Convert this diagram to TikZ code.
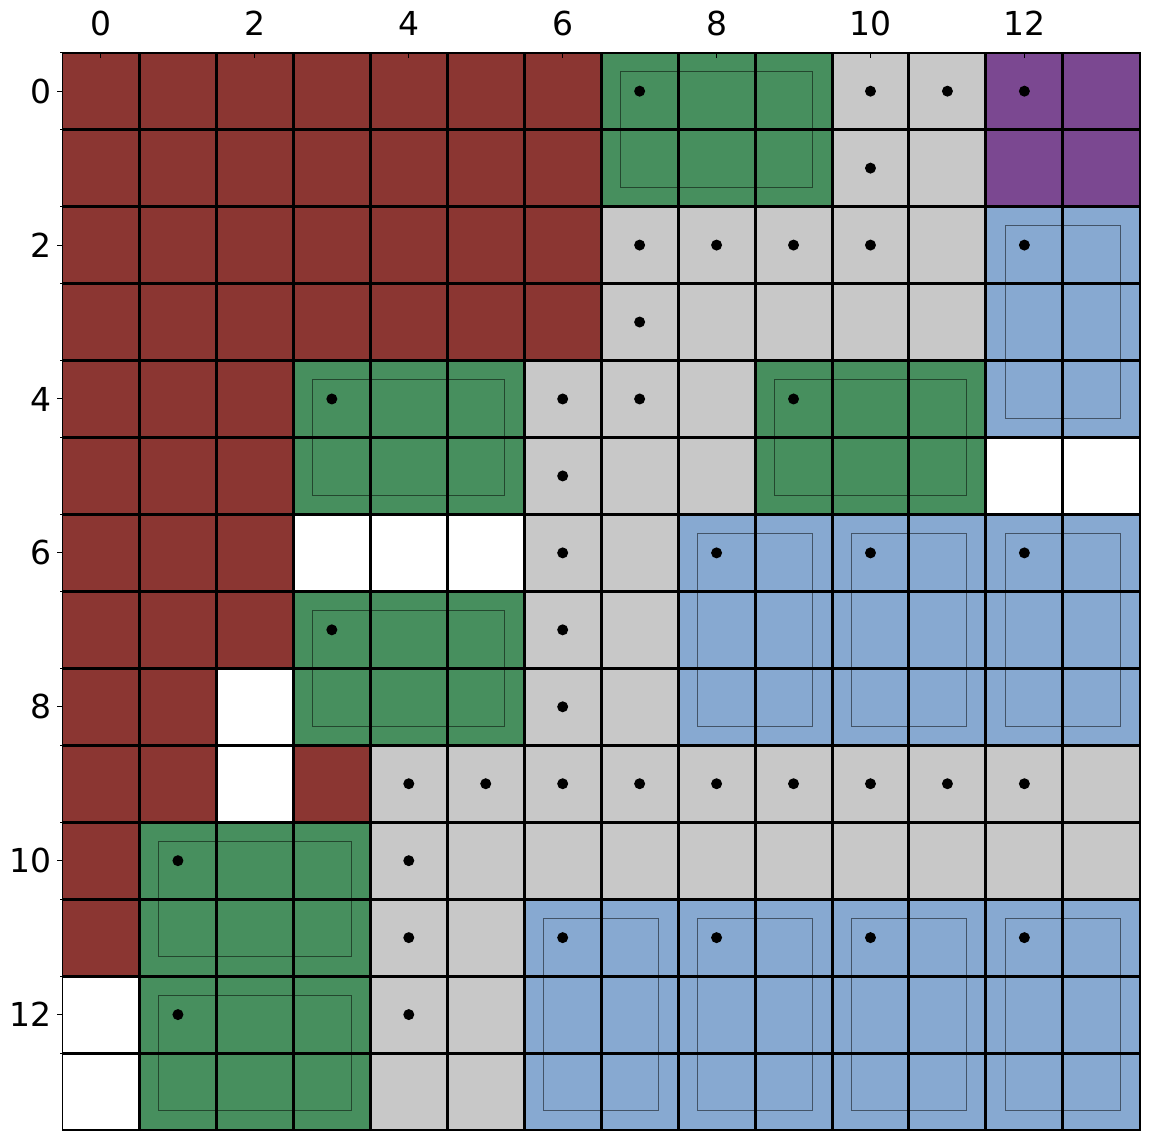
\documentclass[tikz,border=0pt]{standalone}
\usepackage{fontspec}
\setmainfont{DejaVu Sans}
\definecolor{cred}{RGB}{139,54,50}
\definecolor{cgreen}{RGB}{71,143,94}
\definecolor{cgray}{RGB}{200,200,200}
\definecolor{cpurple}{RGB}{123,72,145}
\definecolor{cblue}{RGB}{135,169,209}
\tikzset{
  cellfill/.style={draw=none},
  whitecell/.style={fill=white,draw=cgray,line width=0.5pt},
  gridline/.style={black,line width=1.5pt},
  framebox/.style={black,line width=0.9pt},
  innerbox/.style={draw=black,draw opacity=0.5,line width=0.5pt},
  dotmark/.style={circle,fill=black,inner sep=0pt,minimum size=5.5pt},
  ticklabel/.style={inner sep=0pt,font=\fontsize{16.5}{20}\selectfont},
  tickline/.style={black,line width=0.5pt}
}
\begin{document}
\begin{tikzpicture}[x=0.5pt,y=-0.5pt]
\useasboundingbox (0,0) rectangle (1150,1140);
\begin{scope}[shift={(62.5,52.7)},x=38.475pt,y=-38.475pt]
  % background gray
  \fill[cgray] (0,0) rectangle (14,14);
  % red regions
  \foreach \a/\b/\p/\q in {0/6/0/3, 0/2/4/7, 0/1/8/9, 3/3/9/9, 0/0/10/11}
    \fill[cred] (\a,\p) rectangle (\b+1,\q+1);
  % green regions
  \foreach \a/\b/\p/\q in {7/9/0/1, 3/5/4/5, 9/11/4/5, 3/5/7/8, 1/3/10/13}
    \fill[cgreen] (\a,\p) rectangle (\b+1,\q+1);
  % purple
  \fill[cpurple] (12,0) rectangle (14,2);
  % blue regions
  \foreach \a/\b/\p/\q in {12/13/2/4, 8/13/6/8, 6/13/11/13}
    \fill[cblue] (\a,\p) rectangle (\b+1,\q+1);
  % white cells
  \foreach \c/\r in {12/5, 13/5, 3/6, 4/6, 5/6, 2/8, 2/9, 0/12, 0/13}
    \draw[whitecell] (\c,\r) rectangle (\c+1,\r+1);
  % inner boxes: green 3x2 blocks
  \foreach \a/\p in {7/0, 3/4, 9/4, 3/7, 1/10, 1/12}
    \draw[innerbox] (\a+0.25,\p+0.25) rectangle (\a+2.75,\p+1.75);
  % inner boxes: blue 2x3 blocks
  \foreach \a/\p in {12/2, 8/6, 10/6, 12/6, 6/11, 8/11, 10/11, 12/11}
    \draw[innerbox] (\a+0.25,\p+0.25) rectangle (\a+1.75,\p+2.75);
  % grid lines
  \foreach \i in {1,...,13} {
    \draw[gridline] (\i,0) -- (\i,14);
    \draw[gridline] (0,\i) -- (14,\i);
  }
  \draw[framebox] (0,0) rectangle (14,14);
  % dots
  \foreach \c/\r [count=\n] in {7/0,10/0,11/0,12/0,10/1,7/2,8/2,9/2,10/2,12/2,7/3,
      3/4,6/4,7/4,9/4,6/5,6/6,8/6,10/6,12/6,3/7,6/7,6/8,
      4/9,5/9,6/9,7/9,8/9,9/9,10/9,11/9,12/9,1/10,4/10,
      4/11,6/11,8/11,10/11,12/11,1/12,4/12}
    \node[dotmark] (dot\n) at (\c+0.5,\r+0.5) {};
  % ticks
  \foreach \i in {0,...,13} {
    \draw[tickline] (\i,0) -- ++(0,0.035);
    \draw[tickline] (0,\i) -- ++(-0.035,0);
  }
  \foreach \i in {0,2,...,12} {
    \draw[tickline] (\i+0.5,0) -- ++(0,0.065);
    \draw[tickline] (0,\i+0.5) -- ++(-0.065,0);
    \node[ticklabel,anchor=base] (tx\i) at (\i+0.5,-0.22) {\i};
    \node[ticklabel,anchor=east] (ty\i) at (-0.135,\i+0.5) {\i};
  }
\end{scope}
\end{tikzpicture}
\end{document}
